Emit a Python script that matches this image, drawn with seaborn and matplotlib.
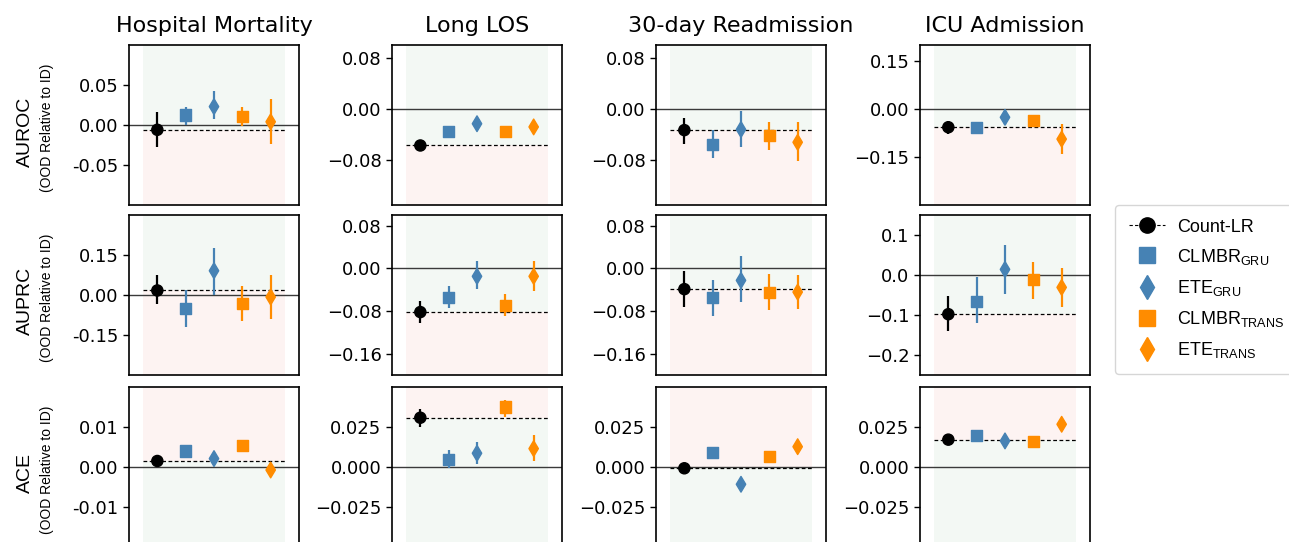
import numpy as np
import pandas as pd
import matplotlib
matplotlib.use("Agg")
import matplotlib.pyplot as plt
import seaborn as sns
from matplotlib.lines import Line2D
from matplotlib.ticker import FuncFormatter

# ---------------- data ----------------
tasks = ["Hospital Mortality", "Long LOS", "30-day Readmission", "ICU Admission"]
metrics = ["AUROC", "AUPRC", "ACE"]
models = ["Count-LR", "CLMBR_GRU", "ETE_GRU", "CLMBR_TRANS", "ETE_TRANS"]
model_labels = ["Count-LR", r"CLMBR$_\mathregular{GRU}$", r"ETE$_\mathregular{GRU}$",
                r"CLMBR$_\mathregular{TRANS}$", r"ETE$_\mathregular{TRANS}$"]
model_colors = ["black", "#4682B4", "#4682B4", "#FF8C00", "#FF8C00"]
model_markers = ["o", "s", "d", "s", "d"]

# estimates and interval bounds, one row per task, one column per model
auroc_est = [[-0.006, 0.0125, 0.023, 0.011, 0.004],
             [-0.057, -0.035, -0.023, -0.035, -0.028],
             [-0.033, -0.056, -0.032, -0.041, -0.052],
             [-0.057, -0.059, -0.026, -0.037, -0.094]]
auroc_lo = [[-0.027, 0.0, 0.008, -0.001, -0.024],
            [-0.061, -0.039, -0.027, -0.039, -0.032],
            [-0.055, -0.077, -0.059, -0.064, -0.081],
            [-0.078, -0.066, -0.050, -0.044, -0.141]]
auroc_hi = [[0.016, 0.023, 0.042, 0.022, 0.033],
            [-0.053, -0.031, -0.019, -0.031, -0.024],
            [-0.0145, -0.033, -0.003, -0.021, -0.021],
            [-0.038, -0.052, -0.006, -0.030, -0.046]]

auprc_est = [[0.017, -0.049, 0.091, -0.033, -0.0075],
             [-0.082, -0.055, -0.015, -0.069, -0.015],
             [-0.039, -0.055, -0.0226, -0.0445, -0.0445],
             [-0.098, -0.067, 0.014, -0.011, -0.031]]
auprc_lo = [[-0.034, -0.120, 0.0, -0.099, -0.090],
            [-0.102, -0.075, -0.039, -0.090, -0.042],
            [-0.073, -0.089, -0.063, -0.079, -0.076],
            [-0.139, -0.119, -0.048, -0.061, -0.081]]
auprc_hi = [[0.075, 0.017, 0.176, 0.032, 0.076],
            [-0.062, -0.034, 0.013, -0.048, 0.0145],
            [-0.0056, -0.021, 0.0226, -0.0113, -0.013],
            [-0.0525, -0.004, 0.075, 0.033, 0.018]]

ace_est = [[0.0015, 0.0040, 0.0021, 0.0053, -0.00075],
           [0.0308, 0.0046, 0.0086, 0.0375, 0.0115],
           [-0.0008, 0.0089, -0.0108, 0.0063, 0.0127],
           [0.0171, 0.0198, 0.0163, 0.0158, 0.0267]]
ace_lo = [[0.0010, 0.0035, 0.0016, 0.0048, -0.0012],
          [0.0250, -0.0008, 0.0017, 0.0315, 0.0038],
          [-0.0020, 0.0079, -0.0118, 0.0053, 0.0117],
          [0.0161, 0.0188, 0.0153, 0.0148, 0.0257]]
ace_hi = [[0.0020, 0.0045, 0.0026, 0.0058, -0.0003],
          [0.0360, 0.0104, 0.0158, 0.0420, 0.0200],
          [0.0004, 0.0099, -0.0098, 0.0073, 0.0137],
          [0.0181, 0.0208, 0.0173, 0.0168, 0.0277]]

# axis ranges and ticks per metric (rows) / task (columns)
ylims = [[(-0.1, 0.1), (-0.15, 0.1), (-0.15, 0.1), (-0.3, 0.2)],
         [(-0.3, 0.3), (-0.2, 0.1), (-0.2, 0.1), (-0.25, 0.15)],
         [(-0.02, 0.02), (-0.05, 0.05), (-0.05, 0.05), (-0.05, 0.05)]]
yticks = [[[-0.05, 0, 0.05], [-0.08, 0, 0.08], [-0.08, 0, 0.08], [-0.15, 0, 0.15]],
          [[-0.15, 0, 0.15], [-0.16, -0.08, 0, 0.08], [-0.16, -0.08, 0, 0.08], [-0.2, -0.1, 0, 0.1]],
          [[-0.01, 0, 0.01], [-0.025, 0, 0.025], [-0.025, 0, 0.025], [-0.025, 0, 0.025]]]
higher_is_better = [True, True, False]

est_all = [auroc_est, auprc_est, ace_est]
lo_all = [auroc_lo, auprc_lo, ace_lo]
hi_all = [auroc_hi, auprc_hi, ace_hi]

# ---------------- figure ----------------
plt.rcParams["mathtext.fontset"] = "custom"
plt.rcParams["mathtext.rm"] = "Liberation Sans"
plt.rcParams["mathtext.it"] = "Liberation Sans:italic"
plt.rcParams["mathtext.bf"] = "Liberation Sans:bold"
plt.rcParams["font.family"] = ["DejaVu Sans"]

W, H = 1289, 542
fig = plt.figure(figsize=(W / 100, H / 100), dpi=100)

col_left = [129, 392, 656, 920]
row_top = [45, 215, 387]
ax_w, ax_h = 170, 160

green = "#f3f8f4"
red = "#fdf3f2"
palette = dict(zip(models, model_colors))
markers = dict(zip(models, model_markers))

for r, metric in enumerate(metrics):
    for c, task in enumerate(tasks):
        left = col_left[c] / W
        bottom = 1 - (row_top[r] + ax_h) / H
        ax = fig.add_axes([left, bottom, ax_w / W, ax_h / H])
        df = pd.DataFrame({"model": models,
                           "x": np.arange(len(models)),
                           "est": est_all[r][c],
                           "lo": lo_all[r][c],
                           "hi": hi_all[r][c]})
        base = df["est"].iloc[0]
        y0, y1 = ylims[r][c]
        good, bad = (green, red) if higher_is_better[r] else (red, green)
        ax.fill_between([-0.5, 4.5], base, y1, color=good, lw=0, zorder=0)
        ax.fill_between([-0.5, 4.5], y0, base, color=bad, lw=0, zorder=0)
        ax.axhline(0, color="#3a3a3a", lw=1.0, zorder=1)
        ax.plot([-0.5, 4.5], [base, base], color="black", ls=(0, (3, 2)), lw=0.9, zorder=1)
        ax.vlines(df["x"], df["lo"], df["hi"], colors=[palette[m] for m in models],
                  lw=1.6, zorder=2)
        sns.scatterplot(data=df, x="x", y="est", hue="model", style="model",
                        palette=palette, markers=markers, s=64, edgecolor="face",
                        linewidth=1.0, legend=False, ax=ax, zorder=3)
        ax.set_xlim(-1, 5)
        ax.set_ylim(y0, y1)
        ax.set_yticks(yticks[r][c])
        if c == 0:
            ax.yaxis.set_major_formatter(FuncFormatter(lambda v, p: f"{v:.2f}"))
        ax.set_xticks([])
        ax.set_xlabel("")
        ax.set_ylabel("")
        ax.tick_params(axis="y", labelsize=13, length=4, width=1)
        for s in ax.spines.values():
            s.set_linewidth(1.2)
            s.set_color("black")
        if r == 0:
            ax.set_title(task, fontsize=16, pad=9)
        if c == 0:
            ax.text(-0.61, 0.46, metric, rotation=90, ha="center", va="center",
                    transform=ax.transAxes, family="Liberation Sans", fontsize=14)
            ax.text(-0.485, 0.48, "(OOD Relative to ID)", rotation=90, ha="center",
                    va="center", transform=ax.transAxes, family="Liberation Sans",
                    fontsize=10)

handles = []
for m, col, mk in zip(models, model_colors, model_markers):
    if m == "Count-LR":
        handles.append(Line2D([0], [0], color=col, marker=mk, ls=(0, (3, 2)), lw=0.8,
                              markersize=11))
    else:
        handles.append(Line2D([0], [0], color=col, marker=mk, ls="none",
                              markersize=12 if mk == "d" else 11))
fig.legend(handles, model_labels, loc="upper left",
           bbox_to_anchor=(1115 / W, 1 - 205 / H), borderaxespad=0,
           prop={"family": "Liberation Sans", "size": 13},
           labelspacing=0.62, handlelength=2.0, handletextpad=0.7, borderpad=0.75)

fig.savefig("out.png", dpi=100)
